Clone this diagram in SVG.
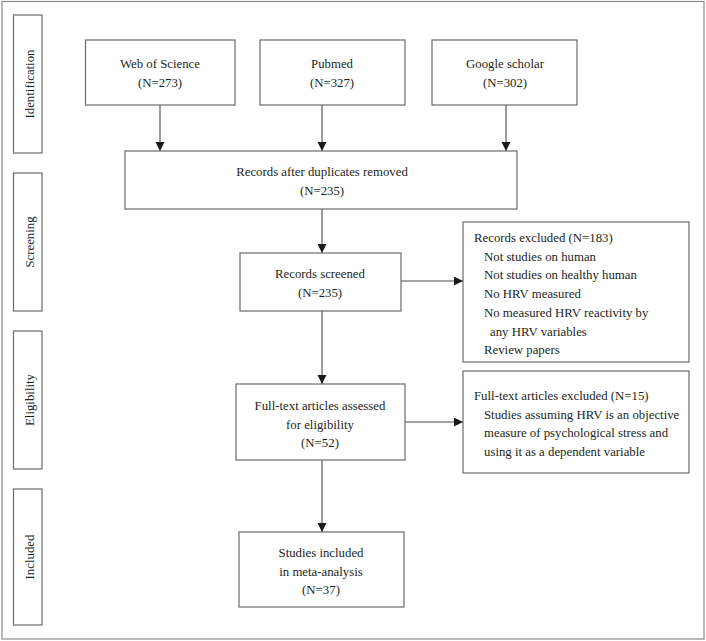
<svg xmlns="http://www.w3.org/2000/svg" width="706" height="641" viewBox="0 0 706 641">
<defs>
<marker id="ah" markerWidth="10" markerHeight="10" refX="9" refY="4.5" orient="auto" markerUnits="userSpaceOnUse">
<path d="M0,0 L9,4.5 L0,9 Z" fill="#1a1a1a"/>
</marker>
</defs>
<style>
.box{fill:#fff;stroke:#6b6b6b;stroke-width:1.2}
.side{fill:#fff;stroke:#6b6b6b;stroke-width:1.2}
.t{font-family:"Liberation Serif","Times New Roman",serif;font-size:12.8px;fill:#231f20}
.m{text-anchor:middle}
.c{stroke:#4a4a4a;stroke-width:1.1;fill:none;marker-end:url(#ah)}
</style>
<rect x="0" y="0" width="706" height="641" fill="#fff"/>
<rect x="2" y="1.5" width="702" height="637.5" fill="none" stroke="#8a8a8a" stroke-width="1.2"/>

<g id="side-identification">
<rect class="side" x="13.5" y="15" width="28.5" height="138"/>
<text class="t m" transform="translate(33.5,84) rotate(-90)">Identification</text>
</g>
<g id="side-screening">
<rect class="side" x="13.5" y="173" width="28.5" height="138"/>
<text class="t m" transform="translate(33.5,242) rotate(-90)">Screening</text>
</g>
<g id="side-eligibility">
<rect class="side" x="13.5" y="331" width="28.5" height="138"/>
<text class="t m" transform="translate(33.5,400) rotate(-90)">Eligibility</text>
</g>
<g id="side-included">
<rect class="side" x="13.5" y="489" width="28.5" height="136"/>
<text class="t m" transform="translate(33.5,557) rotate(-90)">Included</text>
</g>

<g id="connectors">
<line class="c" x1="160" y1="105" x2="160" y2="151"/>
<line class="c" x1="322" y1="105" x2="322" y2="151"/>
<line class="c" x1="506" y1="105" x2="506" y2="151"/>
<line class="c" x1="322" y1="209" x2="322" y2="253"/>
<line class="c" x1="401" y1="281" x2="463" y2="281"/>
<line class="c" x1="322" y1="311" x2="322" y2="384"/>
<line class="c" x1="405" y1="422" x2="463" y2="422"/>
<line class="c" x1="322" y1="460" x2="322" y2="532"/>
</g>

<g id="web-of-science">
<rect class="box" x="85.5" y="40" width="149.5" height="65"/>
<text class="t m" x="160" y="68">Web of Science</text>
<text class="t m" x="160" y="87">(N=273)</text>
</g>
<g id="pubmed">
<rect class="box" x="260" y="40" width="145" height="65"/>
<text class="t m" x="332" y="68">Pubmed</text>
<text class="t m" x="332" y="87">(N=327)</text>
</g>
<g id="google-scholar">
<rect class="box" x="432" y="40" width="145" height="65"/>
<text class="t m" x="505" y="68">Google scholar</text>
<text class="t m" x="505" y="87">(N=302)</text>
</g>
<g id="records-after-duplicates">
<rect class="box" x="125" y="151" width="392" height="58"/>
<text class="t m" x="322" y="176">Records after duplicates removed</text>
<text class="t m" x="322" y="195">(N=235)</text>
</g>
<g id="records-screened">
<rect class="box" x="240" y="253" width="161" height="58"/>
<text class="t m" x="320" y="278">Records screened</text>
<text class="t m" x="320" y="297">(N=235)</text>
</g>
<g id="records-excluded">
<rect class="box" x="463" y="222" width="226" height="140"/>
<text class="t" x="474" y="242">Records excluded (N=183)</text>
<text class="t" x="484" y="260.7">Not studies on human</text>
<text class="t" x="484" y="279.4">Not studies on healthy human</text>
<text class="t" x="484" y="298.1">No HRV measured</text>
<text class="t" x="484" y="316.8">No measured HRV reactivity by</text>
<text class="t" x="490" y="335.5">any HRV variables</text>
<text class="t" x="484" y="354.2">Review papers</text>
</g>
<g id="full-text-assessed">
<rect class="box" x="236" y="384" width="169" height="76"/>
<text class="t m" x="320" y="410">Full-text articles assessed</text>
<text class="t m" x="320" y="428.5">for eligibility</text>
<text class="t m" x="320" y="447">(N=52)</text>
</g>
<g id="full-text-excluded">
<rect class="box" x="463" y="371" width="226" height="102"/>
<text class="t" x="474" y="400">Full-text articles excluded (N=15)</text>
<text class="t" x="484" y="418.5">Studies assuming HRV is an objective</text>
<text class="t" x="484" y="437">measure of psychological stress and</text>
<text class="t" x="484" y="455.5">using it as a dependent variable</text>
</g>
<g id="studies-included">
<rect class="box" x="239" y="532" width="165" height="75"/>
<text class="t m" x="321" y="557">Studies included</text>
<text class="t m" x="321" y="575.5">in meta-analysis</text>
<text class="t m" x="321" y="594">(N=37)</text>
</g>
</svg>
